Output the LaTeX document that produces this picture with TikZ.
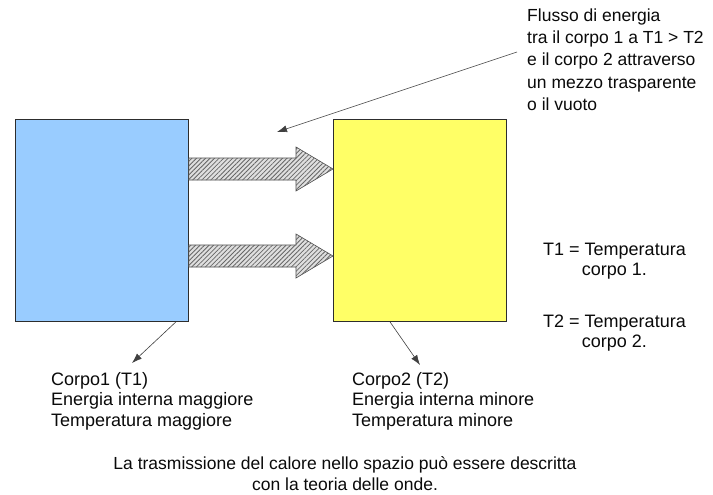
\documentclass[tikz,border=0pt]{standalone}
\usepackage{fontspec}
\setmainfont{Liberation Sans}
\usetikzlibrary{patterns.meta,calc,arrows.meta}
\definecolor{bodyblue}{RGB}{153,204,255}
\definecolor{bodyyellow}{RGB}{255,255,102}
\definecolor{edge}{RGB}{45,45,45}
\definecolor{txt}{RGB}{10,10,10}
\newcommand\flowarrow[1]{%
  \draw[flow] ($(b1.north east)+(0,#1-11)$) -- ($(b2.north west)+(-37,#1-11)$)
    -- ($(b2.north west)+(-37,#1-22)$) -- ($(b2.north west)+(0,#1)$)
    -- ($(b2.north west)+(-37,#1+22)$) -- ($(b2.north west)+(-37,#1+11)$)
    -- ($(b1.north east)+(0,#1+11)$) -- cycle;}
\begin{document}
\begin{tikzpicture}[x=1pt,y=-1pt,
  body/.style={draw=edge, line width=0.9pt, inner sep=0pt, minimum width=173pt, minimum height=202pt, anchor=north west},
  lbl/.style={anchor=north west, inner sep=0pt, font=\fontsize{18}{20.5}\selectfont, align=left, text=txt},
  ptr/.style={-{Latex[length=10pt,width=7pt]}, draw=black!75, line width=0.6pt},
  flow/.style={draw=black!70, line width=0.6pt, fill=gray!25,
    postaction={pattern={Lines[angle=45,distance=3.2pt,line width=0.8pt]}, pattern color=black!60}}]
\path[use as bounding box, fill=white] (0,0) rectangle (713,495);
\node[body, fill=bodyblue] (b1) at (15,119) {};
\node[body, fill=bodyyellow] (b2) at (333,119) {};
\flowarrow{50}
\flowarrow{137}
\node[lbl, font=\fontsize{17.5}{22.3}\selectfont] (flux) at (527,8.5) {Flusso di energia\\tra il corpo 1 a T1 > T2\\e il corpo 2 attraverso\\un mezzo trasparente\\o il vuoto};
\coordinate (fluxend) at (517,52);
\coordinate (fluxtip) at (277,132);
\draw[ptr] (fluxend) -- (fluxtip);
\node[lbl, align=center] (t1) at (543,242.5) {T1 = Temperatura\\corpo 1.};
\node[lbl, align=center] (t2) at (543,314.5) {T2 = Temperatura\\corpo 2.};
\node[lbl] (c1) at (51,372) {Corpo1 (T1)\\Energia interna maggiore\\Temperatura maggiore};
\node[lbl] (c2) at (352,372) {Corpo2 (T2)\\Energia interna minore\\Temperatura minore};
\node[lbl, anchor=north, align=center, font=\fontsize{17.5}{20.5}\selectfont] (note) at (345,456.5) {La trasmissione del calore nello spazio può essere descritta\\con la teoria delle onde.};
\draw[ptr] ($(b1.south east)+(-13,0)$) -- ($(c1.north west)+(81,-9)$);
\draw[ptr] ($(b2.south west)+(57,0)$) -- ($(c2.north west)+(68,-7)$);
\end{tikzpicture}
\end{document}
